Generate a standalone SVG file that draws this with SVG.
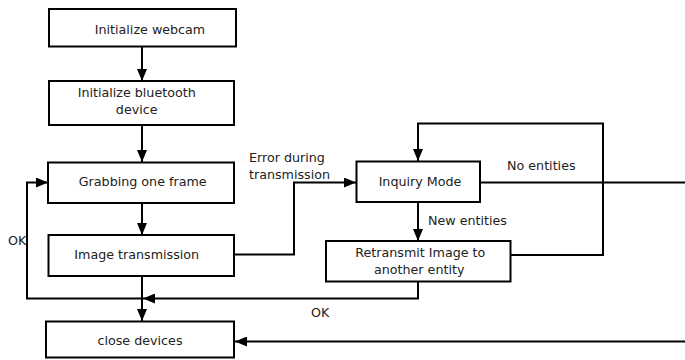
<svg xmlns="http://www.w3.org/2000/svg" width="685" height="360" viewBox="0 0 685 360">
<defs>
<marker id="ah" markerUnits="userSpaceOnUse" markerWidth="12" markerHeight="10" refX="12" refY="5" orient="auto">
<path d="M0,0 L12,5 L0,10 Z" fill="#000"/>
</marker>
<style>
rect.n{fill:#fff;stroke:#000;stroke-width:2}
text{font-family:"DejaVu Sans",sans-serif;font-size:12.7px;fill:#222}
.c path{fill:none;stroke:#000;stroke-width:2}
</style>
</defs>
<rect width="685" height="360" fill="#fff"/>
<g class="c" id="connectors">
<path d="M142,47 V81" marker-end="url(#ah)"/>
<path d="M142,125 V162" marker-end="url(#ah)"/>
<path d="M142,203 V235" marker-end="url(#ah)"/>
<path d="M142,276 V321" marker-end="url(#ah)"/>
<path d="M142,298.5 H27 V182.5 H48" marker-end="url(#ah)"/>
<path d="M418,282 V298.5 H143" marker-end="url(#ah)"/>
<path d="M234,254.5 H294 V182.5 H356" marker-end="url(#ah)"/>
<path d="M418,202 V241" marker-end="url(#ah)"/>
<path d="M511,255 H603 V123.5 H418 V161" marker-end="url(#ah)"/>
<path d="M480,182.5 H685"/>
<path d="M685,341.5 H235" marker-end="url(#ah)"/>
</g>
<g id="n1"><rect class="n" x="49" y="9" width="187" height="37.5"/><text x="150" y="34" text-anchor="middle">Initialize webcam</text></g>
<g id="n2"><rect class="n" x="49" y="81" width="185" height="44"/><text x="136.7" y="97" text-anchor="middle">Initialize bluetooth</text><text x="136.7" y="114" text-anchor="middle">device</text></g>
<g id="n3"><rect class="n" x="48" y="162.5" width="186" height="40.5"/><text x="142.7" y="185.5" text-anchor="middle">Grabbing one frame</text></g>
<g id="n4"><rect class="n" x="48.5" y="235" width="185.5" height="41"/><text x="136.7" y="258.5" text-anchor="middle">Image transmission</text></g>
<g id="n5"><rect class="n" x="46" y="321.5" width="188" height="36"/><text x="140" y="344.5" text-anchor="middle">close devices</text></g>
<g id="n6"><rect class="n" x="356.5" y="161.5" width="123.5" height="40.5"/><text x="420" y="185.5" text-anchor="middle">Inquiry Mode</text></g>
<g id="n7"><rect class="n" x="326" y="241" width="184.5" height="40.5"/><text x="420.3" y="257" text-anchor="middle">Retransmit Image to</text><text x="419.2" y="274" text-anchor="middle">another entity</text></g>
<g id="labels">
<text x="249" y="162">Error during</text>
<text x="249" y="178.5">transmission</text>
<text x="507" y="170">No entities</text>
<text x="428" y="225">New entities</text>
<text x="8" y="245">OK</text>
<text x="311" y="316.5">OK</text>
</g>
</svg>
